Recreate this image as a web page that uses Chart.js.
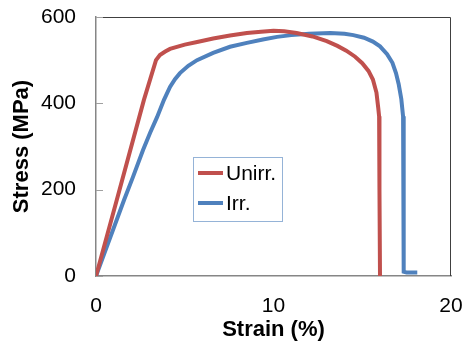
<!DOCTYPE html>
<html>
<head>
<meta charset="utf-8">
<script src="https://cdn.jsdelivr.net/npm/chart.js@4.4.1/dist/chart.umd.min.js"></script>
<style>
  body { margin: 0; background: #fff; }
  canvas { display: block; }
</style>
</head>
<body>
<canvas id="ssChart" width="465" height="347"></canvas>
<script>
   // Stress-strain curves ==============================
   const unirrStrain = [0, 1.17, 2.7, 3.38, 3.6, 3.9, 4.17, 5.0, 5.7, 6.6, 7.55, 8.5, 9.3, 10.0, 10.6, 11.3, 12.2, 13.0, 13.6, 14.1, 14.6, 15.0, 15.35, 15.6, 15.8, 15.9, 15.95, 15.97, 16.0];
   const unirrStress = [0, 176, 408, 500, 512, 520, 526, 536, 542, 550, 557, 563, 566, 568, 567, 563, 555, 544, 533, 522, 508, 493, 475, 455, 425, 390, 370, 200, 0];

   const irrStrain = [0, 1.58, 2.08, 2.65, 3.05, 3.44, 3.83, 4.17, 4.45, 4.73, 5.2, 5.69, 6.6, 7.55, 8.5, 9.4, 10.2, 11.0, 12.0, 13.2, 14.0, 14.5, 15.1, 15.6, 16.0, 16.4, 16.7, 16.9, 17.05, 17.2, 17.3, 17.32, 17.35, 17.5, 18.1];
   const irrStress = [0, 176, 229, 292, 332, 368, 408, 438, 456, 470, 487, 500, 517, 531, 540, 548, 554, 558, 561, 563, 561, 558, 552, 543, 532, 514, 494, 470, 445, 410, 370, 200, 10, 8, 8];

   const seriesLabels = ['Unirr.', 'Irr.'];
   const xTicks = [0, 10, 20];
   const yTicks = [0, 200, 400, 600];

   const toPoints = (xs, ys) => xs.map((x, i) => ({ x: x, y: ys[i] }));

   // legend box + frame drawn by hand so it sits inside the plot like the original
   const framePlugin = {
       id: 'frame',
       afterDatasetsDraw(chart) {
           const ctx = chart.ctx;
           const a = chart.chartArea;
           const ys = chart.scales.y;
           ctx.save();
           // top and right border
           ctx.strokeStyle = '#404040';
           ctx.lineWidth = 1;
           ctx.beginPath();
           ctx.moveTo(a.left, a.top + 0.5);
           ctx.lineTo(a.right - 0.5, a.top + 0.5);
           ctx.lineTo(a.right - 0.5, a.bottom);
           ctx.stroke();
           // small inner ticks on y axis
           ctx.strokeStyle = '#a0a0a0';
           yTicks.forEach(v => {
               const py = Math.round(ys.getPixelForValue(v)) + 0.5;
               ctx.beginPath();
               ctx.moveTo(a.left, py);
               ctx.lineTo(a.left + 7, py);
               ctx.stroke();
           });
           // legend
           const lx = 193, ly = 157, lw = 89, lh = 64;
           ctx.fillStyle = '#fff';
           ctx.fillRect(lx, ly, lw, lh);
           ctx.strokeStyle = '#95b3d7';
           ctx.strokeRect(lx + 0.5, ly + 0.5, lw, lh);
           ctx.font = '21px "Liberation Sans", Arial, sans-serif';
           ctx.textBaseline = 'middle';
           chart.data.datasets.forEach((ds, i) => {
               const yy = ly + 16 + i * 30;
               ctx.strokeStyle = ds.borderColor;
               ctx.lineWidth = 4;
               ctx.beginPath();
               ctx.moveTo(lx + 5, yy);
               ctx.lineTo(lx + 30, yy);
               ctx.stroke();
               ctx.fillStyle = '#000';
               ctx.fillText(ds.label, lx + 33, yy + 1);
           });
           ctx.restore();
       }
   };

   const ctx = document.getElementById('ssChart').getContext('2d');
   new Chart(ctx, {
       type: 'scatter',
       data: {
           datasets: [
               {
                   label: seriesLabels[0],
                   data: toPoints(unirrStrain, unirrStress),
                   borderColor: '#c0504d',
                   backgroundColor: '#c0504d',
                   borderWidth: 4,
                   showLine: true,
                   pointRadius: 0,
                   tension: 0
               },
               {
                   label: seriesLabels[1],
                   data: toPoints(irrStrain, irrStress),
                   borderColor: '#4f81bd',
                   backgroundColor: '#4f81bd',
                   borderWidth: 4,
                   showLine: true,
                   pointRadius: 0,
                   tension: 0
               }
           ]
       },
       options: {
           responsive: false,
           animation: false,
           layout: { padding: { left: 0, top: 17, right: 14, bottom: 0 } },
           plugins: {
               legend: { display: false },
               tooltip: { enabled: false }
           },
           scales: {
               x: {
                   type: 'linear',
                   min: 0,
                   max: 20,
                   afterBuildTicks: s => { s.ticks = xTicks.map(v => ({ value: v })); },
                   afterFit: s => { s.height = 71; s.paddingLeft = 0; s.paddingRight = 0; },
                   grid: { display: false, drawTicks: false },
                   border: { color: '#868686', width: 1.5 },
                   ticks: {
                       color: '#000',
                       padding: 18,
                       maxRotation: 0,
                       font: { family: '"Liberation Sans", Arial', size: 21 }
                   },
                   title: {
                       display: true,
                       text: 'Strain (%)',
                       color: '#000',
                       padding: { top: 0, bottom: 4 },
                       font: { family: '"Liberation Sans", Arial', size: 22, weight: 'bold' }
                   }
               },
               y: {
                   type: 'linear',
                   min: 0,
                   max: 600,
                   afterBuildTicks: s => { s.ticks = yTicks.map(v => ({ value: v })); },
                   afterFit: s => { s.width = 96; s.paddingTop = 0; s.paddingBottom = 0; },
                   grid: { display: false, drawTicks: false },
                   border: { color: '#868686', width: 1.5 },
                   ticks: {
                       color: '#000',
                       padding: 20,
                       font: { family: '"Liberation Sans", Arial', size: 21 }
                   },
                   title: {
                       display: true,
                       text: 'Stress (MPa)',
                       color: '#000',
                       padding: { top: 9, bottom: 0 },
                       font: { family: '"Liberation Sans", Arial', size: 22, weight: 'bold' }
                   }
               }
           }
       },
       plugins: [framePlugin]
   });
</script>
</body>
</html>
